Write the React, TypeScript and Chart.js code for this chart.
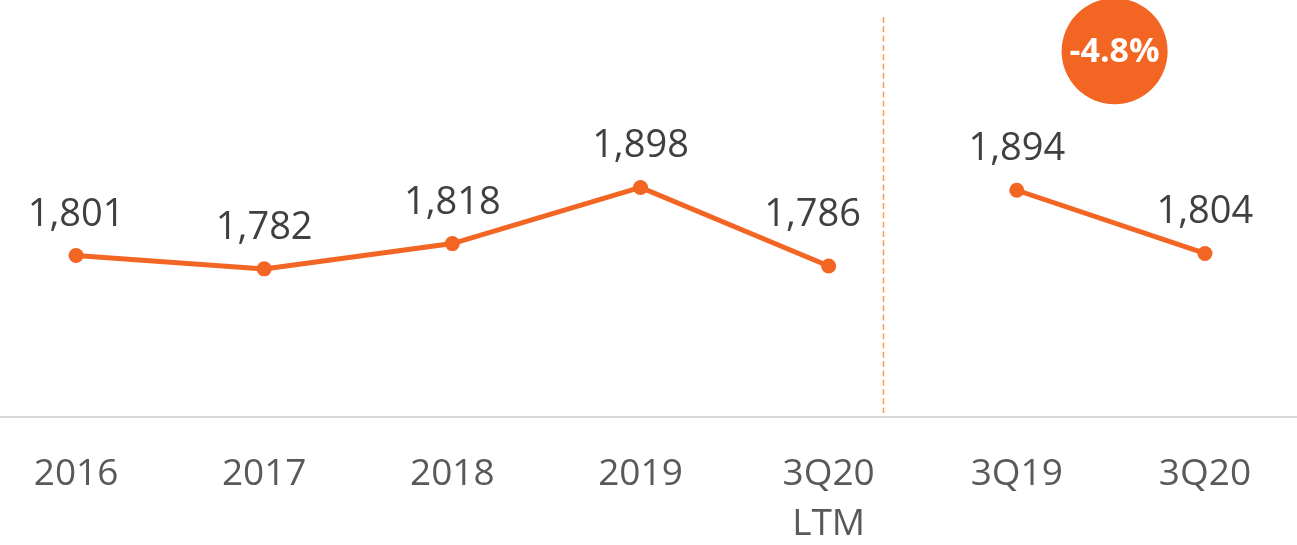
import React, { useEffect, useRef } from "react";
import { Chart, registerables } from "chart.js";

Chart.register(...registerables);

const categories: (string | string[])[] = ["2016", "2017", "2018", "2019", ["3Q20", "LTM"], "3Q19", "3Q20"];
const annualValues: (number | null)[] = [1801, 1782, 1818, 1898, 1786, null, null];
const quarterValues: (number | null)[] = [null, null, null, null, null, 1894, 1804];
const badgeText = "-4.8%";

const ORANGE = "#F26522";
const FONT = "'Open Sans', 'Noto Sans', sans-serif";

const overlayPlugin = {
  id: "overlay",
  afterDatasetsDraw(chart: any) {
    const { ctx, chartArea } = chart;
    const xs = chart.scales.x;
    const ys = chart.scales.y;
    // data labels
    ctx.save();
    ctx.font = `38px ${FONT}`;
    ctx.fillStyle = "#404040";
    ctx.textAlign = "center";
    ctx.textBaseline = "alphabetic";
    chart.data.datasets.forEach((ds: any, di: number) => {
      const meta = chart.getDatasetMeta(di);
      meta.data.forEach((pt: any, i: number) => {
        const v = ds.data[i];
        if (v === null || v === undefined) return;
        let dx = 0;
        let dy = -30;
        if (di === 0 && i === 4) {
          dx = -16;
          dy = -40;
        }
        ctx.fillText(v.toLocaleString("en-US"), pt.x + dx, pt.y + dy);
      });
    });
    ctx.restore();

    // dashed divider
    const p4 = xs.getPixelForValue(4);
    const p5 = xs.getPixelForValue(5);
    const dividerX = Math.round(p4 + 0.29 * (p5 - p4)) + 0.5;
    ctx.save();
    ctx.strokeStyle = "#F79A55";
    ctx.lineWidth = 1.5;
    ctx.setLineDash([6, 3.3]);
    ctx.beginPath();
    ctx.moveTo(dividerX, chartArea.top + 17);
    ctx.lineTo(dividerX, chartArea.bottom - 4);
    ctx.stroke();
    ctx.restore();

    // badge
    const p6 = xs.getPixelForValue(6);
    const bx = p5 + 0.52 * (p6 - p5);
    const by = ys.getPixelForValue(2092);
    ctx.save();
    ctx.fillStyle = ORANGE;
    ctx.beginPath();
    ctx.arc(bx, by, 53, 0, Math.PI * 2);
    ctx.fill();
    ctx.fillStyle = "#FFFFFF";
    ctx.font = `bold 34px ${FONT}`;
    ctx.textAlign = "center";
    ctx.textBaseline = "middle";
    ctx.fillText(badgeText, bx, by + 1);
    ctx.restore();
  },
};

export default function App() {
  const ref = useRef<HTMLCanvasElement | null>(null);
  useEffect(() => {
    if (!ref.current) return;
    const datasetStyle = {
      borderColor: ORANGE,
      backgroundColor: ORANGE,
      borderWidth: 5,
      pointRadius: 7.5,
      pointBorderWidth: 0,
      pointBackgroundColor: ORANGE,
      spanGaps: false,
      tension: 0,
    };
    const chart = new Chart(ref.current, {
      type: "line",
      data: {
        labels: categories,
        datasets: [
          { label: "Annual", data: annualValues, ...datasetStyle },
          { label: "Quarter", data: quarterValues, ...datasetStyle },
        ],
      },
      options: {
        animation: false,
        responsive: false,
        layout: { padding: 0, autoPadding: false },
        plugins: {
          legend: { display: false },
          tooltip: { enabled: false },
        },
        scales: {
          x: {
            offset: true,
            grid: { display: false, drawTicks: false },
            border: { display: true, color: "#D9D9D9", width: 2 },
            ticks: {
              color: "#595959",
              padding: 32,
              font: { family: FONT, size: 37, lineHeight: 50 / 37 },
              maxRotation: 0,
              autoSkip: false,
            },
            afterFit: (scale: any) => {
              scale.height = 128;
            },
          },
          y: {
            display: false,
            min: 1571,
            max: 2165,
          },
        },
      },
      plugins: [overlayPlugin],
    });
    return () => chart.destroy();
  }, []);
  return (
    <div style={{ position: "fixed", left: 0, top: 0, width: "1297px", height: "545px", overflow: "hidden", background: "#fff" }}>
      <canvas ref={ref} width={1317} height={545} style={{ position: "absolute", left: "-18px", top: 0 }} />
    </div>
  );
}
